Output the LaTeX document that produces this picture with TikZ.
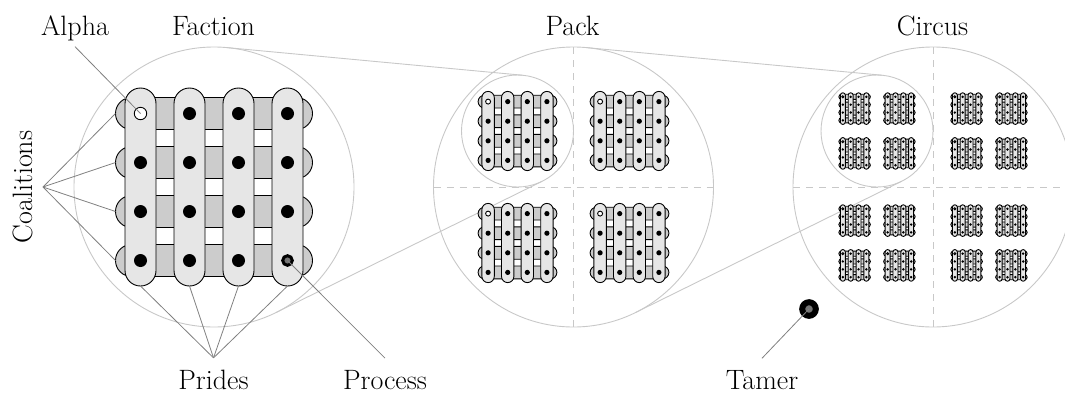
\documentclass[tikz,border=0pt]{standalone}
\usepackage{fontspec}
\usetikzlibrary{calc}

\definecolor{ringgray}{HTML}{C8C8C8}
\definecolor{leadgray}{HTML}{808080}
\definecolor{pridefill}{HTML}{E6E6E6}
\definecolor{coalfill}{HTML}{CCCCCC}
\definecolor{procfill}{HTML}{747474}

\tikzset{
  ring/.style={draw=ringgray, line width=0.9pt},
  quadline/.style={draw=ringgray, line width=0.9pt, dash pattern=on 7pt off 6pt},
  leader/.style={draw=leadgray, line width=0.8pt},
  coalbar/.style={draw=black, fill=coalfill, line width=0.9pt},
  pridebar/.style={draw=black, fill=pridefill, line width=0.9pt},
  member/.style={fill=black},
  alphamark/.style={draw=black, fill=white, line width=0.9pt},
  procmark/.style={draw=black, fill=procfill, line width=3pt},
  caption/.style={font=\fontsize{28}{34}\selectfont, anchor=base, inner sep=0pt},
}

% One faction: four coalitions (rows) crossed by four prides (columns).
% #1,#2 centre, #3 scale, #4 = 1 to mark the process member.
\newcommand\factiongrid[4]{%
  \pgfmathsetmacro\fgrw{16*#3}%
  \pgfmathsetmacro\fgpw{15.5*#3}%
  \pgfmathsetmacro\fgrl{98.5*#3}%
  \pgfmathsetmacro\fgpl{99*#3}%
  \pgfmathsetmacro\fgs{49*#3}%
  \pgfmathsetmacro\fgd{max(6.5*#3,1.35)}%
  \pgfmathsetmacro\fga{max(6.2*#3,1.1)}%
  \foreach \j in {0,...,3}{
    \pgfmathsetmacro\fgy{#2+(\j-1.5)*\fgs}
    \draw[coalbar, rounded corners=\fgrw pt]
      ({#1-\fgrl},{\fgy-\fgrw}) rectangle ({#1+\fgrl},{\fgy+\fgrw});
  }
  \foreach \i in {0,...,3}{
    \pgfmathsetmacro\fgx{#1+(\i-1.5)*\fgs}
    \draw[pridebar, rounded corners=\fgpw pt]
      ({\fgx-\fgpw},{#2-\fgpl}) rectangle ({\fgx+\fgpw},{#2+\fgpl});
  }
  \foreach \i in {0,...,3}{
    \foreach \j in {0,...,3}{
      \pgfmathsetmacro\fgx{#1+(\i-1.5)*\fgs}
      \pgfmathsetmacro\fgy{#2+(\j-1.5)*\fgs}
      \pgfmathtruncatemacro\fgk{\i+10*\j}
      \ifnum\fgk=0
        \draw[alphamark] (\fgx,\fgy) circle[radius=\fga pt];
      \else
        \ifnum\fgk=33
          \ifnum#4=1
            \draw[procmark] (\fgx,\fgy) circle[radius=4.8pt];
          \else
            \fill[member] (\fgx,\fgy) circle[radius=\fgd pt];
          \fi
        \else
          \fill[member] (\fgx,\fgy) circle[radius=\fgd pt];
        \fi
      \fi
    }
  }
}

% One pack: four factions, one per quadrant. #1,#2 centre, #3 scale.
\newcommand\packgroup[3]{%
  \foreach \pqx in {-1,1}{
    \foreach \pqy in {-1,1}{
      \pgfmathsetmacro\pgcx{#1+\pqx*56*#3}
      \pgfmathsetmacro\pgcy{#2+\pqy*56*#3}
      \pgfmathsetmacro\pgk{0.4*#3}
      \factiongrid{\pgcx}{\pgcy}{\pgk}{0}
    }
  }
}

\begin{document}
\begin{tikzpicture}[x=1pt, y=-1pt]
  \useasboundingbox (0,0) rectangle (1065,392);
  \clip (0,0) rectangle (1065,392);

  % centres of the three levels and of the zoom circles
  \coordinate (F) at (214,187);
  \coordinate (P) at (573.5,187);
  \coordinate (C) at (933,187);
  \coordinate (Pz) at (517.5,131);
  \coordinate (Cz) at (877,131);

  % enclosing circles
  \draw[ring] (F) circle[radius=140pt];
  \draw[ring] (P) circle[radius=140pt];
  \draw[ring] (C) circle[radius=140pt];
  \draw[ring] (Pz) circle[radius=56pt];
  \draw[ring] (Cz) circle[radius=56pt];

  % quadrant dividers
  \draw[quadline] ($(P)+(-140,0)$) -- ($(P)+(140,0)$);
  \draw[quadline] ($(P)+(0,-140)$) -- ($(P)+(0,140)$);
  \draw[quadline] ($(C)+(-140,0)$) -- ($(C)+(140,0)$);
  \draw[quadline] ($(C)+(0,-140)$) -- ($(C)+(0,140)$);

  % tangent lines joining each level to its zoom circle
  \draw[ring] ($(F)+(-84.65:140)$) -- ($(Pz)+(-84.65:56)$);
  \draw[ring] ($(F)+(63.71:140)$) -- ($(Pz)+(63.71:56)$);
  \draw[ring] ($(P)+(-84.65:140)$) -- ($(Cz)+(-84.65:56)$);
  \draw[ring] ($(P)+(63.71:140)$) -- ($(Cz)+(63.71:56)$);

  % the three levels
  \factiongrid{214}{187}{1}{1}
  \packgroup{573.5}{187}{1}
  \foreach \cqx in {-1,1}{
    \foreach \cqy in {-1,1}{
      \pgfmathsetmacro\crx{933+\cqx*56}
      \pgfmathsetmacro\cry{187+\cqy*56}
      \packgroup{\crx}{\cry}{0.4}
    }
  }

  % tamer
  \node[circle, draw=black, fill=procfill, line width=6pt, minimum size=13.6pt,
        inner sep=0pt] (tamerdot) at (809,309) {};

  % anchor points on the faction
  \coordinate (alphadot) at (140.5,113.5);
  \coordinate (procdot) at (287.5,260.5);
  \coordinate (coal1) at (115.5,113.5);
  \coordinate (coal2) at (115.5,162.5);
  \coordinate (coal3) at (115.5,211.5);
  \coordinate (coal4) at (115.5,260.5);
  \coordinate (pride1) at (140.5,286);
  \coordinate (pride2) at (189.5,286);
  \coordinate (pride3) at (238.5,286);
  \coordinate (pride4) at (287.5,286);

  % captions
  \node[caption, inner sep=6pt] (alpha) at (75,35) {Alpha};
  \node[caption] (faction) at (213.5,35) {Faction};
  \node[caption] (pack) at (572.5,35) {Pack};
  \node[caption] (circus) at (932.5,35) {Circus};
  \node[caption, rotate=90, anchor=south, inner sep=10pt] (coalitions) at (43,187) {Coalitions};
  \node[caption] (prides) at (213.5,389) {Prides};
  \node[caption] (process) at (385,389) {Process};
  \node[caption] (tamer) at (762,389) {Tamer};

  % leaders
  \draw[leader] (alpha.south) -- (alphadot);
  \foreach \n in {1,...,4}{
    \draw[leader] (coalitions.south) -- (coal\n);
    \draw[leader] ([yshift=11.5pt]prides.north) -- (pride\n);
  }
  \draw[leader] ([yshift=11.5pt]process.north) -- (procdot);
  \draw[leader] ([yshift=11.5pt]tamer.north) -- (tamerdot.center);
\end{tikzpicture}
\end{document}
